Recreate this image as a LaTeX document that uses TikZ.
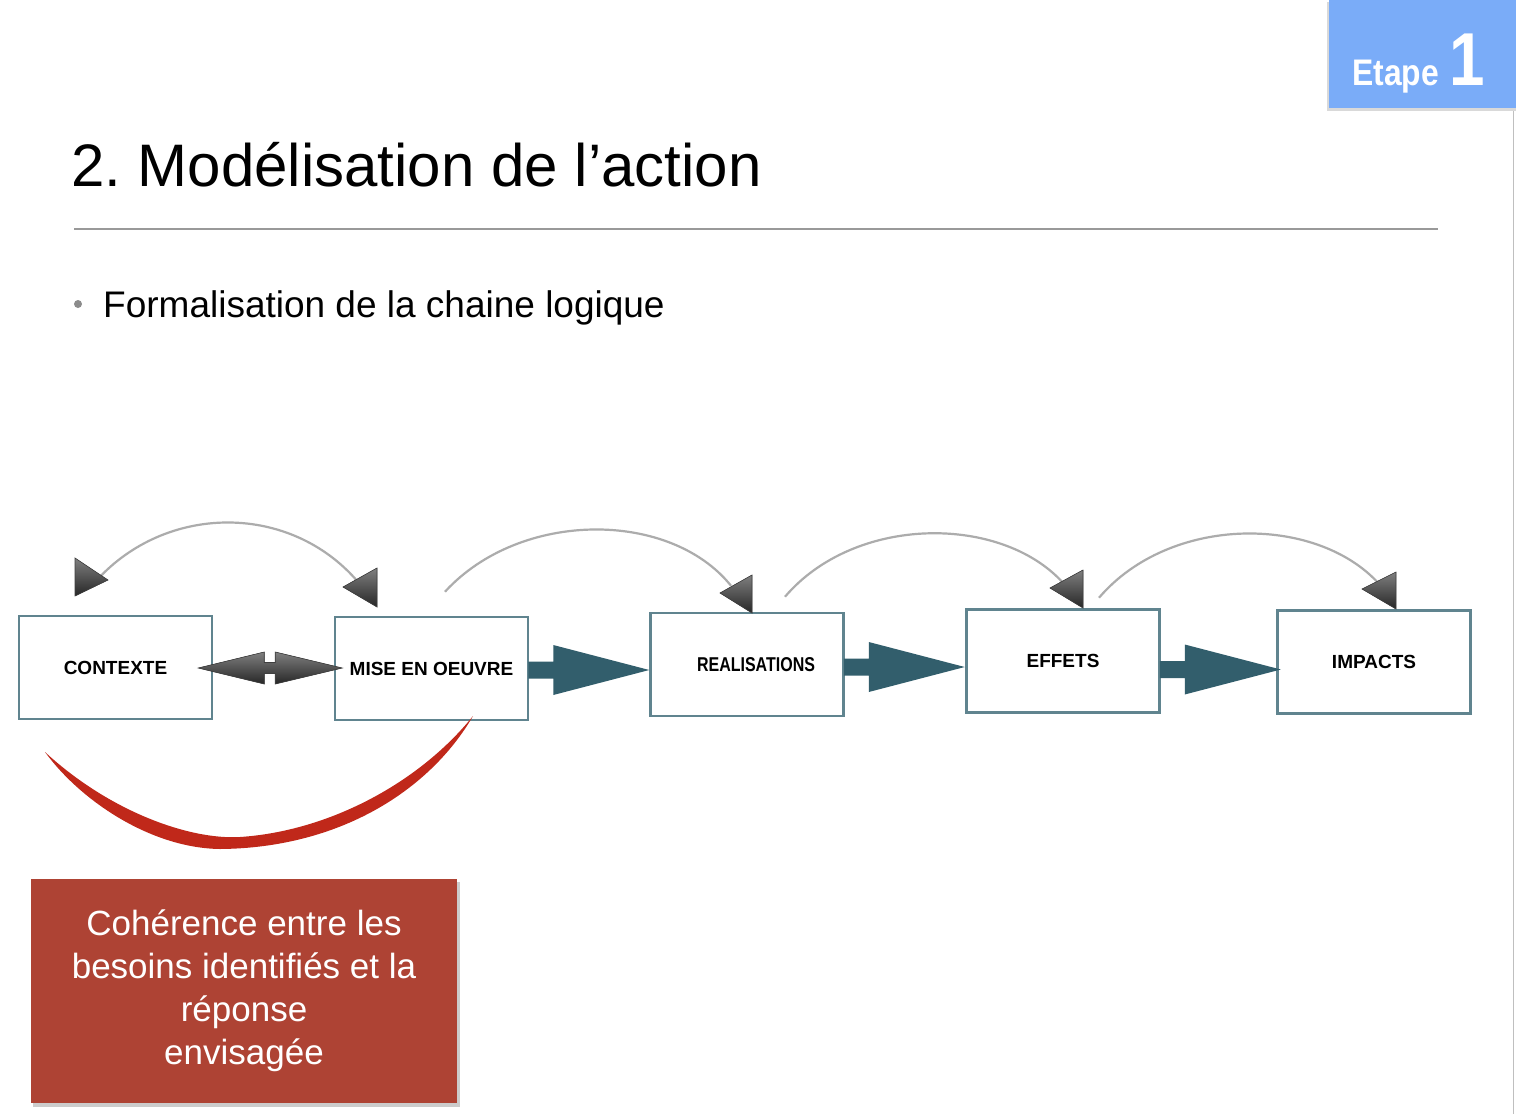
\documentclass[tikz,border=0pt]{standalone}
\usepackage{fontspec}
\setmainfont{Liberation Sans}
\frenchspacing
\usetikzlibrary{calc}
\definecolor{etapeblue}{RGB}{122,172,248}
\definecolor{boxline}{RGB}{96,132,143}
\definecolor{flowteal}{RGB}{50,94,108}
\definecolor{arcgray}{RGB}{172,172,172}
\definecolor{brushred}{RGB}{192,40,26}
\definecolor{notered}{RGB}{174,67,52}
\tikzset{
  stage/.style={draw=boxline,line width=2.5pt,fill=white,minimum width=193pt,
    minimum height=103pt,inner sep=0pt,text depth=-2pt,font=\fontsize{19}{21}\selectfont\bfseries},
  flowarrow/.style={fill=flowteal},
  backarc/.style={draw=arcgray,line width=2.2pt},
  headfill/.style={top color=black!50,bottom color=black!85,draw=black!75,line width=0.6pt}
}
\begin{document}
\begin{tikzpicture}[x=1pt,y=-1pt]
\useasboundingbox (0,0) rectangle (1516,1114);
\fill[white] (0,0) rectangle (1516,1114);
\draw[black!25,line width=1pt] (1513,108) -- (1513,1114);
% etape badge
\fill[black!15] (1327,2) rectangle (1516,111);
\fill[etapeblue] (1329,0) rectangle (1516,108);
\node[anchor=base west,inner sep=0,text=white,font=\fontsize{37}{37}\selectfont\bfseries] (etape) at (1352,85) {\scalebox{0.86}[1]{Etape}};
\node[anchor=base west,inner sep=0,text=white,font=\fontsize{75}{75}\selectfont\bfseries] (one) at (1449,85) {\scalebox{0.85}[1]{1}};
% title
\node[anchor=base west,inner sep=0,font=\fontsize{60}{60}\selectfont] (title) at (71,186) {2. Modélisation de l’action};
\draw[black!40,line width=1.2pt] (74,229) -- (1438,229);
\fill[black!45] (78,304) circle (4);
\node[anchor=base west,inner sep=0,font=\fontsize{37}{37}\selectfont] (bullet) at (103,317) {Formalisation de la chaine logique};
% chain
\node[stage] (ctx) at (115.5,667.5) {CONTEXTE};
\node[stage] (moe) at (431.5,668.5) {MISE EN OEUVRE};
\node[stage] (real) at (747,664.5) {\hspace*{18pt}\fontsize{20}{22}\selectfont\scalebox{0.8}[1]{REALISATIONS}};
\node[stage] (eff) at (1063,661) {EFFETS};
\node[stage] (imp) at (1374,662) {IMPACTS};
\foreach \a/\dy in {moe/1.5,real/2.5,eff/8.5}{
  \coordinate (s) at ($(\a.east)+(0,\dy)$);
  \fill[flowarrow] ($(s)+(-1,-8.5)$) -- ($(s)+(24,-8.5)$) -- ($(s)+(24,-25)$) -- ($(s)+(120,0)$)
    -- ($(s)+(24,25)$) -- ($(s)+(24,8.5)$) -- ($(s)+(-1,8.5)$) -- cycle;
}
\fill[headfill] ($(ctx.east)+(-15,0.5)$) -- ++(66,-16) -- ++(0,10.5) -- ++(11,0) -- ++(0,-10.5)
  -- ++(67,16) -- ++(-67,16) -- ++(0,-10.5) -- ++(-11,0) -- ++(0,10.5) -- cycle;
% arcs over the boxes
\draw[backarc] ($(ctx.north)+(-15.5,-38)$) .. controls +(70,-73) and +(-67,-77) .. ($(moe.north)+(-74.5,-35)$);
\draw[backarc] ($(moe.north)+(13.5,-24)$) .. controls +(75,-82) and +(-61,-76) .. ($(real.north)+(-16,-26)$);
\draw[backarc] ($(real.north)+(38,-15)$) .. controls +(70,-82) and +(-62,-67) .. ($(eff.north)+(-1,-26.5)$);
\draw[backarc] ($(eff.north)+(36,-10.5)$) .. controls +(71,-83) and +(-63,-68) .. ($(imp.north)+(4,-26.5)$);
\fill[headfill] (75,558) -- (75,596) -- (108,580) -- cycle;
\fill[headfill] (377,568) -- (377,607) -- (343,587) -- cycle;
\fill[headfill] (752,575) -- (752,613) -- (720,593) -- cycle;
\fill[headfill] (1083,570) -- (1083,608) -- (1050,588) -- cycle;
\fill[headfill] (1396,572) -- (1396,609) -- (1362,589) -- cycle;
% red brush stroke
\fill[brushred] (45,752) .. controls (110,812) and (190,840) .. (240,837)
  .. controls (330,831) and (420,782) .. (473,716)
  .. controls (430,790) and (340,848) .. (220,849)
  .. controls (150,848) and (80,800) .. (45,752) -- cycle;
% note
\fill[black!20] (33,882) rectangle (460,1107);
\node[fill=notered,minimum width=426pt,minimum height=224pt,inner sep=0,text=white,align=center,
  font=\fontsize{35}{43}\selectfont] (note) at (244,991) {Cohérence entre les\\besoins identifiés et la\\réponse\\envisagée};
\end{tikzpicture}
\end{document}
